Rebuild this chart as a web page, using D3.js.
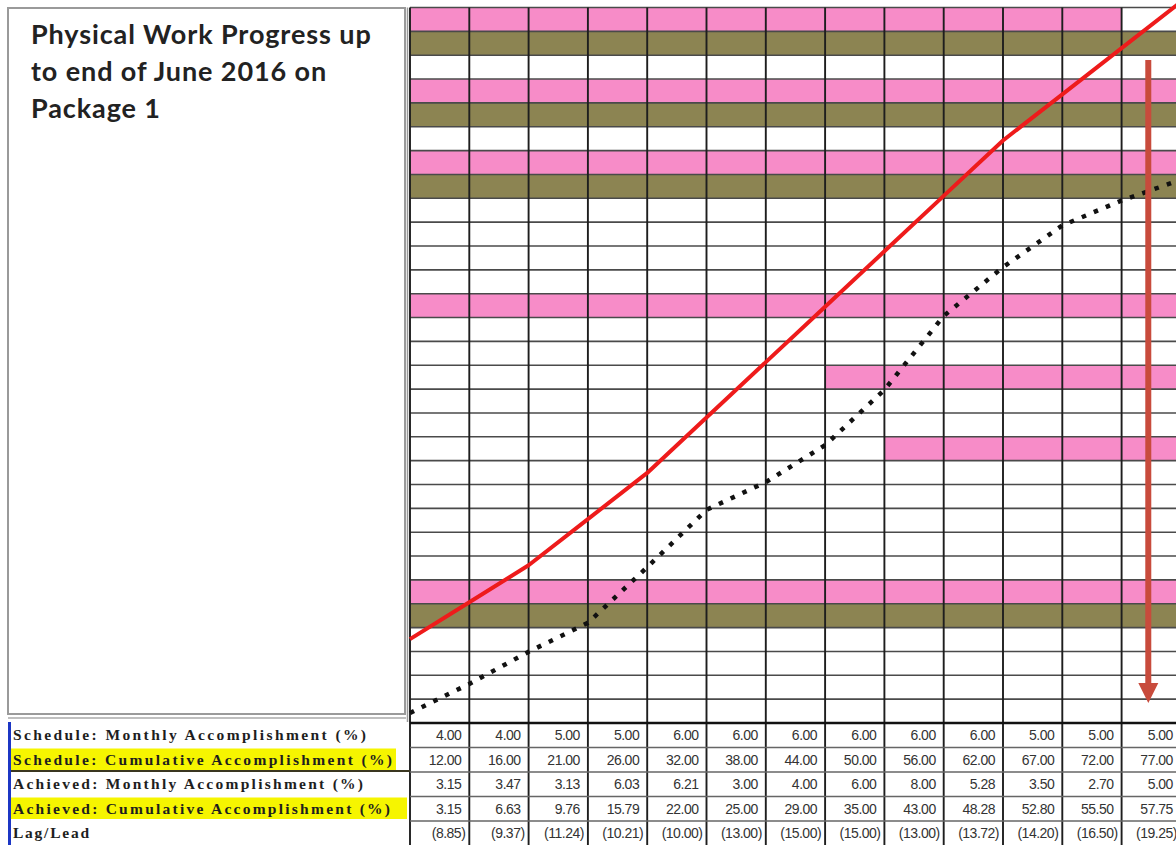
<!DOCTYPE html>
<html>
<head>
<meta charset="utf-8">
<script src="https://cdn.jsdelivr.net/npm/d3@7/dist/d3.min.js"></script>
<style>
  html, body { margin: 0; padding: 0; background: #fff; }
  svg { display: block; }
</style>
</head>
<body>
<svg id="chart" width="1176" height="845"></svg>
<script>
// ---------------- DATA ----------------
const titleLines = ["Physical Work Progress up", "to end of June 2016 on", "Package 1"];
const months = ["Jun-15","Jul-15","Aug-15","Sep-15","Oct-15","Nov-15","Dec-15",
                "Jan-16","Feb-16","Mar-16","Apr-16","May-16","Jun-16"];
const schedMonthly = [4.00, 4.00, 5.00, 5.00, 6.00, 6.00, 6.00, 6.00, 6.00, 6.00, 5.00, 5.00, 5.00];
const schedCum     = [12.00, 16.00, 21.00, 26.00, 32.00, 38.00, 44.00, 50.00, 56.00, 62.00, 67.00, 72.00, 77.00];
const achMonthly   = [3.15, 3.47, 3.13, 6.03, 6.21, 3.00, 4.00, 6.00, 8.00, 5.28, 3.50, 2.70, 5.00];
const achCum       = [3.15, 6.63, 9.76, 15.79, 22.00, 25.00, 29.00, 35.00, 43.00, 48.28, 52.80, 55.50, 57.75];
const lagLead      = [-8.85, -9.37, -11.24, -10.21, -10.00, -13.00, -15.00, -15.00, -13.00, -13.72, -14.20, -16.50, -19.25];
const rowLabels = [
  "Schedule: Monthly  Accomplishment (%)",
  "Schedule: Cumulative  Accomplishment (%)",
  "Achieved: Monthly  Accomplishment (%)",
  "Achieved: Cumulative  Accomplishment (%)",
  "Lag/Lead"
];
// Gantt activity rows (row index, first month, last month, kind)
const taskRow   = [0, 1, 3, 4, 6, 7, 12, 15, 18, 24, 25];
const taskStart = [0, 0, 0, 0, 0, 0, 0, 7, 8, 0, 0];
const taskEnd   = [11, 12, 12, 12, 12, 12, 12, 12, 12, 12, 12];
const taskKind  = ["plan","actual","plan","actual","plan","actual","plan","plan","plan","plan","actual"];
const nGridRows = 30;
const statusMonth = "Jun-16";

// ---------------- LAYOUT ----------------
const svg = d3.select("#chart");
const W = 1176, H = 845;
const gridLeft = 410, colW = 59.3;
const gridTop = 7.5, gridBottom = 723;
const tableTop = 723, tableRowH = 24.5;

const x = d3.scaleBand().domain(months).range([gridLeft, gridLeft + colW * months.length]).paddingInner(0).paddingOuter(0);
const xb = d3.scaleLinear().domain([0, months.length]).range([gridLeft, gridLeft + colW * months.length]);
const yRow = d3.scaleBand().domain(d3.range(nGridRows)).range([gridTop, gridBottom]);
const yVal = d3.scaleLinear().domain([0, 77]).range([713, 2]);
const tRow = d3.scaleBand().domain(d3.range(rowLabels.length)).range([tableTop, tableTop + tableRowH * rowLabels.length]);

const colors = { plan: "#f78cc8", actual: "#8c8452" };

// title box
svg.append("rect").attr("x", 8).attr("y", 8).attr("width", 397).attr("height", 706)
  .attr("fill", "#fff").attr("stroke", "#9a9a9a").attr("stroke-width", 2);
svg.append("g").selectAll("text").data(titleLines).join("text")
  .attr("x", 31).attr("y", (d, i) => 44 + i * 37)
  .attr("font-family", "Lato, 'Open Sans', sans-serif").attr("font-weight", "bold")
  .attr("font-size", 27).attr("letter-spacing", 0.9).attr("fill", "#222").text(d => d);

// gantt bars
const tasks = taskRow.map((r, i) => ({ row: r, s: taskStart[i], e: taskEnd[i], kind: taskKind[i] }));
svg.append("g").selectAll("rect").data(tasks).join("rect")
  .attr("x", d => x(months[d.s]))
  .attr("y", d => yRow(d.row))
  .attr("width", d => x(months[d.e]) + x.bandwidth() - x(months[d.s]))
  .attr("height", yRow.bandwidth())
  .attr("fill", d => colors[d.kind]);

// grid horizontal lines
const hLines = d3.range(nGridRows + 1).map(i => gridTop + i * yRow.bandwidth());
svg.append("g").selectAll("line").data(hLines).join("line")
  .attr("x1", gridLeft).attr("x2", W).attr("y1", d => d).attr("y2", d => d)
  .attr("stroke", "#4a4a4a").attr("stroke-width", 1.6);

// grid vertical lines
svg.append("g").selectAll("line").data(d3.range(months.length + 1)).join("line")
  .attr("x1", d => xb(d)).attr("x2", d => xb(d)).attr("y1", gridTop).attr("y2", H)
  .attr("stroke", "#1e1e1e").attr("stroke-width", 1.9);
svg.append("line").attr("x1", gridLeft - 2.5).attr("x2", gridLeft - 2.5).attr("y1", gridTop).attr("y2", 722)
  .attr("stroke", "#9a9a9a").attr("stroke-width", 1.5);

// ---------------- TABLE ----------------
// yellow highlighted label cells
[1, 3].forEach(r => {
  svg.append("rect").attr("x", 10).attr("y", tRow(r) + 1).attr("width", r === 1 ? 386 : 397)
    .attr("height", tableRowH - 3).attr("fill", "#f6f500");
});
svg.append("line").attr("x1", 10).attr("x2", gridLeft).attr("y1", tRow(2) - 1).attr("y2", tRow(2) - 1)
  .attr("stroke", "#3a3620").attr("stroke-width", 2);

// table horizontal lines
svg.append("g").selectAll("line").data(d3.range(1, rowLabels.length)).join("line")
  .attr("x1", gridLeft).attr("x2", W).attr("y1", d => tRow(d)).attr("y2", d => tRow(d))
  .attr("stroke", "#666").attr("stroke-width", 1.3);
svg.append("line").attr("x1", gridLeft).attr("x2", W).attr("y1", tableTop).attr("y2", tableTop)
  .attr("stroke", "#111").attr("stroke-width", 2.5);
svg.append("line").attr("x1", 8).attr("x2", 406).attr("y1", 718).attr("y2", 718)
  .attr("stroke", "#aaa").attr("stroke-width", 1.5);
svg.append("line").attr("x1", 9.5).attr("x2", 9.5).attr("y1", 722).attr("y2", H)
  .attr("stroke", "#1c36c4").attr("stroke-width", 3);

// row labels
svg.append("g").selectAll("text").data(rowLabels).join("text")
  .attr("x", 13).attr("y", (d, i) => tRow(i) + tableRowH / 2 + 5)
  .attr("font-family", "'Liberation Serif', 'Times New Roman', serif").attr("font-weight", "bold")
  .attr("font-size", 15.5).attr("fill", "#1e1e1e")
  .attr("textLength", (d, i) => [353, 379, 350, 377, 76][i]).attr("lengthAdjust", "spacing")
  .text(d => d);

// values
const fmt = d3.format(".2f");
const tableRows = [
  schedMonthly.map(fmt),
  schedCum.map(fmt),
  achMonthly.map(fmt),
  achCum.map(fmt),
  lagLead.map(v => v < 0 ? "(" + fmt(-v) + ")" : fmt(v))
];
tableRows.forEach((vals, r) => {
  svg.append("g").selectAll("text").data(vals).join("text")
    .attr("x", (d, i) => x(months[i]) + x.bandwidth() - (r === 4 ? 4 : 8))
    .attr("y", tRow(r) + tableRowH / 2 + 5)
    .attr("text-anchor", "end")
    .attr("font-family", "'Liberation Sans', Arial, sans-serif")
    .attr("font-size", 14).attr("letter-spacing", -0.5).attr("fill", "#333")
    .text(d => d);
});

// ---------------- S-CURVES ----------------
const schedPts = [{ i: 0, v: schedCum[0] - schedMonthly[0] }].concat(schedCum.map((v, i) => ({ i: i + 1, v })));
const achPts = [{ i: 0, v: achCum[0] - achMonthly[0] }].concat(achCum.map((v, i) => ({ i: i + 1, v })));
const line = d3.line().x(d => xb(d.i)).y(d => yVal(d.v));

svg.append("path").datum(achPts).attr("d", line)
  .attr("fill", "none").attr("stroke", "#111").attr("stroke-width", 4.5)
  .attr("stroke-dasharray", "4.5 8.5");
svg.append("path").datum(schedPts).attr("d", line)
  .attr("fill", "none").attr("stroke", "#ee1b1b").attr("stroke-width", 4)
  .attr("stroke-linejoin", "round");

// status arrow
const ax = x(statusMonth) + x.bandwidth() * 0.45;
const arrowColor = "#c84b3c";
svg.append("line").attr("x1", ax).attr("x2", ax).attr("y1", 60).attr("y2", 686)
  .attr("stroke", arrowColor).attr("stroke-width", 6);
svg.append("path")
  .attr("d", d3.line()([[ax - 10, 683], [ax + 10, 683], [ax, 703]]) + "Z")
  .attr("fill", arrowColor);
</script>
</body>
</html>
